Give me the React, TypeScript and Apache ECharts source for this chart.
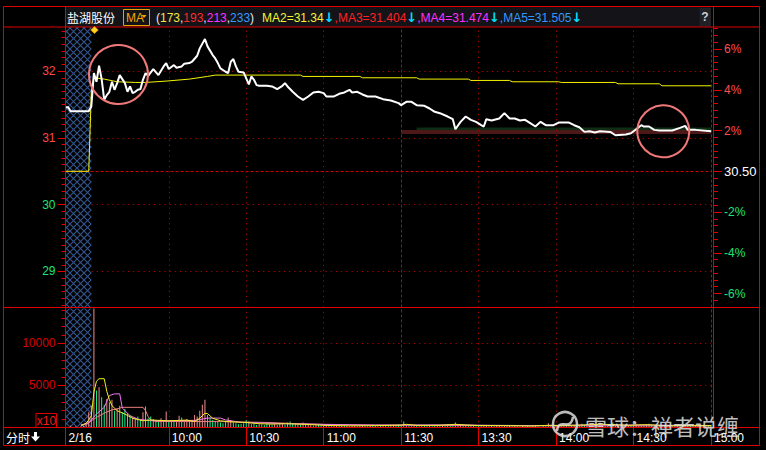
import React, { useEffect, useRef } from 'react';
import * as echarts from 'echarts';

// ---------- data ----------
const PRE_CLOSE = 30.5;
const PRICE_MIN = 28.461;
const PRICE_MAX = 32.66;
const VOL_MAX = 14150;
const MINUTE_MAX = 250; // 0 = 09:15 auction start, 10 = 09:30, 130 = 11:30/13:00, 250 = 15:00

const timeTickValues = [0, 40, 70, 100, 130, 160, 190, 220, 250];
const timeTickLabels = ['2/16', '10:00', '10:30', '11:00', '11:30', '13:30', '14:00', '14:30', '15:00'];
const gridTimes = [40, 70, 100, 130, 160, 190, 220, 250];
const sessionBreaks = [130, 250];
const priceTicks = [29, 30, 31, 32];
const pctTicks = [-6, -4, -2, 0, 2, 4, 6];
const volumeTicks = [5000, 10000];
const auctionRange = [0, 10];
const lowBand = [130, 250, 31.058, 31.118];
const highBand = [136, 250, 31.118, 31.156];

const priceLine = [
  [0, 31.46], [1, 31.46], [2, 31.40], [9, 31.40], [10, 31.47], [11, 31.97], [12, 31.84], [13, 32.08],
  [14, 31.88], [15, 31.57], [16, 31.64], [17, 31.69], [18, 31.84], [19, 31.72], [20, 31.82], [21, 31.94],
  [22, 31.88], [23, 31.82], [24, 31.69], [25, 31.77], [26, 31.67], [27, 31.69], [28, 31.72], [29, 31.73],
  [30, 31.87], [31, 31.97], [32, 31.93], [34, 32.03], [36, 31.94], [38, 32.07], [39, 32.12], [40, 32.03],
  [42, 32.09], [43, 32.05], [45, 32.07], [46, 32.11], [48, 32.12], [49, 32.14], [51, 32.23], [52, 32.34],
  [54, 32.48], [55, 32.37], [57, 32.24], [58, 32.19], [59, 32.12], [60, 32.04], [62, 31.99], [63, 31.97],
  [64, 32.14], [65, 32.18], [66, 32.07], [67, 31.99], [69, 31.98], [71, 31.80], [72, 31.92], [73, 31.87],
  [74, 31.79], [75, 31.78], [78, 31.78], [80, 31.77], [82, 31.73], [84, 31.78], [85, 31.82], [86, 31.77],
  [88, 31.69], [90, 31.62], [92, 31.57], [94, 31.62], [96, 31.68], [98, 31.69], [100, 31.67], [101, 31.62],
  [104, 31.62], [106, 31.66], [108, 31.68], [110, 31.72], [111, 31.68], [113, 31.69], [115, 31.65], [117, 31.62],
  [120, 31.62], [123, 31.58], [126, 31.56], [129, 31.52], [130, 31.49], [132, 31.54], [134, 31.54], [136, 31.49],
  [139, 31.48], [141, 31.44], [143, 31.39], [145, 31.37], [148, 31.32], [150, 31.28], [151, 31.13], [153, 31.24],
  [155, 31.32], [157, 31.27], [159, 31.24], [161, 31.19], [162, 31.17], [163, 31.28], [165, 31.26], [168, 31.29],
  [170, 31.37], [172, 31.29], [174, 31.29], [176, 31.26], [178, 31.27], [180, 31.22], [182, 31.17], [184, 31.24],
  [186, 31.19], [189, 31.19], [191, 31.23], [195, 31.23], [197, 31.19], [199, 31.16], [201, 31.09], [203, 31.10],
  [205, 31.08], [207, 31.10], [211, 31.09], [213, 31.04], [217, 31.05], [219, 31.07], [221, 31.13], [223, 31.19],
  [224, 31.17], [226, 31.17], [228, 31.12], [230, 31.11], [235, 31.11], [238, 31.15], [240, 31.18], [241, 31.12],
  [244, 31.12], [250, 31.10],
];

const avgLine = [
  [0, 30.50], [9, 30.50], [10, 31.69], [11, 31.90], [15, 31.88], [20, 31.84], [27, 31.83], [31, 31.83],
  [39, 31.85], [48, 31.88], [55, 31.92], [58, 31.94], [91, 31.94], [92, 31.92], [114, 31.92], [115, 31.90],
  [136, 31.90], [137, 31.88], [156, 31.88], [157, 31.86], [172, 31.86], [173, 31.84], [191, 31.84], [192, 31.83],
  [213, 31.83], [214, 31.81], [230, 31.81], [231, 31.78], [250, 31.78],
];

const volumes = [
  300, 0, 200, 0, 150, 0, 200, 250, 400, 1800,
  2600, 15500, 4400, 4800, 3600, 2700, 3400, 3000, 3300, 2000,
  2300, 2600, 1800, 2200, 1700, 1500, 1200, 1100, 1300, 900,
  1800, 2500, 1100, 1300, 1000, 800, 900, 1100, 700, 1900,
  800, 900, 700, 800, 1400, 1200, 900, 1000, 800, 900,
  1500, 1300, 2000, 2700, 3300, 1500, 1200, 900, 800, 700,
  600, 500, 700, 1200, 900, 600, 500, 400, 450, 500,
  900, 700, 400, 500, 300, 400, 350, 300, 500, 350,
  300, 400, 300, 450, 500, 350, 600, 700, 500, 400,
  350, 300, 600, 450, 400, 300, 250, 300, 350, 200,
  300, 250, 200, 150, 200, 250, 200, 300, 250, 200,
  150, 200, 250, 150, 200, 300, 200, 150, 200, 250,
  200, 150, 250, 200, 300, 250, 200, 300, 250, 350,
  300, 700, 250, 200, 150, 200, 250, 150, 200, 300,
  250, 200, 150, 200, 250, 300, 200, 250, 350, 300,
  400, 600, 350, 300, 250, 200, 250, 300, 200, 150,
  200, 250, 300, 200, 150, 200, 150, 250, 200, 150,
  300, 250, 200, 150, 200, 150, 100, 200, 150, 200,
  150, 200, 250, 150, 100, 200, 150, 500, 200, 150,
  300, 250, 200, 150, 200, 150, 250, 200, 350, 300,
  450, 300, 250, 200, 150, 300, 400, 600, 250, 200,
  300, 250, 600, 300, 200, 150, 200, 250, 300, 200,
  350, 400, 300, 250, 200, 350, 450, 300, 250, 200,
  200, 150, 200, 250, 200, 150, 300, 250, 200, 150,
  300, 250, 200, 150, 200, 250, 200, 150, 200, 250,
  300,
];

const volumeDir =
  'rgrgrgrrrr' + 'rrgrggrrrg' + 'rrggrgrrgg' + 'rrggrggrgr' + 'grgrrgrrrr' +
  'rrrrrggggg' + 'gggrrggggg' + 'grgggrgggr' + 'grrrrggggg' + 'rgrrrrgrgg' +
  'grgrrrgrgr' + 'grrgrrgrrg' + 'grgrggrggg' + 'ggrgrrgrgg' + 'ggggrgrgrg' +
  'ggrrgrgrgg' + 'ggrrgrgrrg' + 'rgrgrggrgg' + 'grrgrggrrg' + 'rgrgrggrgg' +
  'ggrgrggrgr' + 'gggrrgrrrg' + 'rrrggrgggr' + 'grgrrgrrgg' + 'rgggrrgrgg' + 'g';

const volMA5 = [
  [6, 250], [8, 500], [9, 900], [10, 1400], [11, 4200], [12, 5500], [13, 5800], [15, 5800], [16, 4300],
  [17, 3300], [18, 2600], [20, 2000], [23, 1600], [26, 1100], [30, 800], [33, 900], [36, 850], [40, 800],
  [44, 850], [47, 880], [50, 720], [52, 1100], [54, 1700], [55, 1650], [57, 1100], [60, 800], [63, 700],
  [66, 650], [70, 600], [75, 450], [80, 400], [85, 450], [90, 400], [95, 350], [100, 250], [110, 200],
  [120, 220], [130, 280], [132, 380], [136, 250], [145, 260], [151, 380], [155, 300], [160, 230], [170, 220],
  [180, 180], [188, 260], [192, 220], [200, 300], [207, 380], [212, 350], [218, 260], [222, 320], [226, 330],
  [232, 220], [240, 220], [250, 220],
];
const volMA10 = [
  [6, 250], [9, 600], [10, 900], [12, 1600], [15, 2400], [17, 3800], [19, 4000], [21, 4000], [22, 2300],
  [25, 1400], [28, 1000], [33, 800], [39, 800], [50, 850], [53, 1000], [55, 1120], [60, 1120], [62, 900],
  [68, 600], [78, 520], [85, 450], [95, 400], [105, 320], [120, 280], [135, 300], [150, 320], [165, 260],
  [180, 230], [200, 280], [215, 300], [230, 280], [250, 240],
];
const volMA20 = [
  [6, 250], [9, 500], [10, 800], [12, 1200], [15, 1700], [18, 2100], [20, 2200], [22, 2400], [30, 2400],
  [31, 2000], [32, 1300], [33, 900], [35, 720], [60, 700], [78, 600], [90, 450], [100, 380], [120, 300],
  [140, 250], [170, 220], [200, 200], [250, 180],
];

// ---------- styling ----------
const RED = '#e00000';
const FONT = '"Liberation Sans", Arial, sans-serif';
const CJK = '"Noto Sans CJK SC", sans-serif';

const pctOf = (p: number) => (p / PRE_CLOSE - 1) * 100;

const hatchSvg =
  '<svg xmlns="http://www.w3.org/2000/svg" width="7" height="7">' +
  '<rect width="7" height="7" fill="#000"/>' +
  '<path d="M0 0L7 7M7 0L0 7" stroke="#34558f" stroke-width="1.1"/></svg>';
const hatchFill: any = {
  image: 'data:image/svg+xml;charset=utf-8,' + encodeURIComponent(hatchSvg),
  repeat: 'repeat',
  imageWidth: 7,
  imageHeight: 7,
};

function buildOption() {
  const minorPriceTicks: number[] = [];
  for (let k = Math.ceil(PRICE_MIN * 10); k <= Math.floor(PRICE_MAX * 10); k++) minorPriceTicks.push(k / 10);
  const pMin = pctOf(PRICE_MIN);
  const pMax = pctOf(PRICE_MAX);
  const minorPctTicks: number[] = [];
  for (let k = Math.ceil(pMin * 3); k <= Math.floor(pMax * 3); k++) minorPctTicks.push(k / 3);
  const minorVolTicks: number[] = [];
  for (let v = 1000; v < VOL_MAX; v += 1000) minorVolTicks.push(v);

  const dotStyle = { color: '#b00000', type: [1.2, 4], width: 1 };
  const dashStyle = { color: '#c80000', type: [3, 2], width: 1 };
  const verticals = gridTimes.map((t) => ({
    xAxis: t,
    lineStyle: sessionBreaks.includes(t) ? dashStyle : dotStyle,
  }));
  const markLineBase = {
    silent: true,
    symbol: ['none', 'none'],
    z: 1,
    label: { show: false },
    emphasis: { disabled: true },
    animation: false,
  };

  const line = (data: any, color: string, width: number, xi: number, yi: number, z: number) => ({
    type: 'line',
    xAxisIndex: xi,
    yAxisIndex: yi,
    data,
    symbol: 'none',
    showSymbol: false,
    silent: true,
    z,
    lineStyle: { color, width },
    emphasis: { disabled: true },
  });

  const g = (o: any) => o;
  const hline = (y: number, x1: number, x2: number) =>
    g({ type: 'line', shape: { x1, y1: y, x2, y2: y }, style: { stroke: RED, lineWidth: 1 }, z: 60, silent: true });
  const vline = (x: number, y1: number, y2: number) =>
    g({ type: 'line', shape: { x1: x, y1, x2: x, y2 }, style: { stroke: RED, lineWidth: 1 }, z: 60, silent: true });

  return {
    animation: false,
    backgroundColor: '#000000',
    textStyle: { fontFamily: FONT },
    grid: [
      { left: 65.5, right: 55, top: 27, height: 280.5, containLabel: false },
      { left: 65.5, right: 55, top: 308.5, height: 119, containLabel: false },
    ],
    xAxis: [
      { type: 'value', gridIndex: 0, min: 0, max: MINUTE_MAX, show: false },
      {
        type: 'value', gridIndex: 1, min: 0, max: MINUTE_MAX, position: 'bottom',
        axisLine: { show: false },
        axisTick: { show: true, customValues: timeTickValues, length: 18, lineStyle: { color: RED, width: 1 } },
        axisLabel: {
          show: true, customValues: timeTickValues,
          formatter: (v: number) => timeTickLabels[timeTickValues.indexOf(v)] ?? '',
          color: '#ffffff', fontSize: 12, fontFamily: FONT, align: 'left', margin: 4, padding: [0, 0, 0, 3],
          showMinLabel: true, showMaxLabel: true, hideOverlap: false,
        },
        splitLine: { show: false },
      },
    ],
    yAxis: [
      {
        type: 'value', gridIndex: 0, min: PRICE_MIN, max: PRICE_MAX, position: 'left',
        axisLine: { show: true, lineStyle: { color: RED } },
        axisTick: { show: true, customValues: priceTicks, length: 8, lineStyle: { color: RED } },
        axisLabel: {
          customValues: priceTicks, margin: 10, fontSize: 12, fontFamily: FONT,
          formatter: (v: number) => (v > PRE_CLOSE ? `{up|${v}}` : `{dn|${v}}`),
          rich: { up: { color: '#ff4848', fontSize: 12 }, dn: { color: '#1ee27a', fontSize: 12 } },
        },
        splitLine: { show: true, lineStyle: dotStyle },
      },
      {
        type: 'value', gridIndex: 0, min: PRICE_MIN, max: PRICE_MAX, position: 'left',
        axisLine: { show: false },
        axisTick: { show: true, customValues: minorPriceTicks, length: 4, lineStyle: { color: RED } },
        axisLabel: { show: false }, splitLine: { show: false },
      },
      {
        type: 'value', gridIndex: 0, min: pMin, max: pMax, position: 'right', offset: 2,
        axisLine: { show: true, lineStyle: { color: RED } },
        axisTick: { show: true, customValues: pctTicks, length: 9, lineStyle: { color: RED } },
        axisLabel: {
          customValues: pctTicks, margin: 11, fontSize: 12, fontFamily: FONT,
          formatter: (v: number) => (v === 0 ? '{w|30.50}' : v > 0 ? `{up|${v}%}` : `{dn|${v}%}`),
          rich: {
            up: { color: '#ff4c4c', fontSize: 12 },
            dn: { color: '#1ee27a', fontSize: 12 },
            w: { color: '#ffffff', fontSize: 13 },
          },
        },
        splitLine: { show: false },
      },
      {
        type: 'value', gridIndex: 0, min: pMin, max: pMax, position: 'right', offset: 2,
        axisLine: { show: false },
        axisTick: { show: true, customValues: minorPctTicks, length: 5, lineStyle: { color: RED } },
        axisLabel: { show: false }, splitLine: { show: false },
      },
      {
        type: 'value', gridIndex: 1, min: 0, max: VOL_MAX, position: 'left',
        axisLine: { show: true, lineStyle: { color: RED } },
        axisTick: { show: true, customValues: volumeTicks, length: 8, lineStyle: { color: RED } },
        axisLabel: {
          customValues: volumeTicks, margin: 10, color: '#d80000', fontSize: 12, fontFamily: FONT,
          formatter: (v: number) => String(Math.round(v)),
        },
        splitLine: { show: true, lineStyle: dotStyle },
      },
      {
        type: 'value', gridIndex: 1, min: 0, max: VOL_MAX, position: 'left',
        axisLine: { show: false },
        axisTick: { show: true, customValues: minorVolTicks, length: 4, lineStyle: { color: RED } },
        axisLabel: { show: false }, splitLine: { show: false },
      },
      {
        type: 'value', gridIndex: 1, min: 0, max: VOL_MAX, position: 'right', offset: 2,
        axisLine: { show: true, lineStyle: { color: RED } },
        axisTick: { show: false }, axisLabel: { show: false }, splitLine: { show: false },
      },
    ],
    series: [
      {
        ...line(priceLine, '#ffffff', 2, 0, 0, 5),
        markLine: {
          ...markLineBase,
          data: [...verticals, { yAxis: PRE_CLOSE, lineStyle: { color: '#d00000', type: [3, 2], width: 1 } }],
        },
        markArea: {
          silent: true,
          emphasis: { disabled: true },
          data: [
            [{ xAxis: auctionRange[0], itemStyle: { color: hatchFill } }, { xAxis: auctionRange[1] }],
            [{ xAxis: lowBand[0], yAxis: lowBand[2], itemStyle: { color: '#4c1818' } }, { xAxis: lowBand[1], yAxis: lowBand[3] }],
            [{ xAxis: highBand[0], yAxis: highBand[2], itemStyle: { color: '#0d2e15' } }, { xAxis: highBand[1], yAxis: highBand[3] }],
          ],
        },
      },
      line(avgLine, '#f4f400', 1, 0, 0, 4),
      {
        type: 'bar',
        xAxisIndex: 1,
        yAxisIndex: 4,
        barWidth: 1,
        silent: true,
        z: 3,
        clip: true,
        emphasis: { disabled: true },
        data: volumes.map((v, i) => ({
          value: [i, v],
          itemStyle: { color: volumeDir[i] === 'r' ? '#f08c8c' : '#16f08a' },
        })),
        markLine: { ...markLineBase, data: verticals },
        markArea: {
          silent: true,
          emphasis: { disabled: true },
          data: [[{ xAxis: auctionRange[0], itemStyle: { color: hatchFill } }, { xAxis: auctionRange[1] }]],
        },
      },
      line(volMA20, '#f08080', 1, 1, 4, 4),
      line(volMA10, '#f078f0', 1, 1, 4, 4),
      line(volMA5, '#f0f020', 1, 1, 4, 4),
    ],
    graphic: {
      elements: [
        // title bar
        g({ type: 'rect', shape: { x: 66, y: 7, width: 645, height: 20 }, style: { fill: '#131318' }, z: 50, silent: true }),
        g({ type: 'rect', shape: { x: 699.5, y: 8, width: 11.5, height: 18 }, style: { fill: '#202027' }, z: 51, silent: true }),
        g({ type: 'text', x: 705, y: 17, style: { text: '?', fill: '#cfcfcf', font: `bold 12px ${FONT}`, align: 'center', verticalAlign: 'middle' }, z: 52, silent: true }),
        g({ type: 'text', x: 67, y: 17.5, style: { text: '盐湖股份', fill: '#ffffff', font: `12px ${CJK}`, verticalAlign: 'middle' }, z: 52, silent: true }),
        g({ type: 'rect', shape: { x: 123.5, y: 9.5, width: 26, height: 16 }, style: { fill: 'none', stroke: '#e6a000', lineWidth: 1 }, z: 52, silent: true }),
        g({ type: 'text', x: 126, y: 17.5, style: { text: 'MA', fill: '#f5a800', font: `12px ${FONT}`, verticalAlign: 'middle' }, z: 52, silent: true }),
        g({ type: 'polygon', shape: { points: [[141.5, 15], [146.5, 15], [144, 18]] }, style: { fill: '#f5a800' }, z: 52, silent: true }),
        g({
          type: 'text', x: 156, y: 17.5, z: 52, silent: true,
          style: {
            text: '{w|(}{y|173}{w|,}{r|193}{w|,}{m|213}{w|,}{b|233}{w|)}',
            font: `12px ${FONT}`, verticalAlign: 'middle',
            rich: {
              w: { fill: '#e8e8e8', font: `12px ${FONT}` },
              y: { fill: '#f2e640', font: `12px ${FONT}` },
              r: { fill: '#ff2a2a', font: `12px ${FONT}` },
              m: { fill: '#ff30ff', font: `12px ${FONT}` },
              b: { fill: '#3399ff', font: `12px ${FONT}` },
            },
          },
        }),
        g({
          type: 'text', x: 262, y: 17.5, z: 52, silent: true,
          style: {
            text: '{y|MA2=31.34}{c|↓}{r|,MA3=31.404}{c|↓}{m|,MA4=31.474}{c|↓}{b|,MA5=31.505}{c|↓}',
            font: `12px ${FONT}`, verticalAlign: 'middle',
            rich: {
              y: { fill: '#f4f430', font: `12px ${FONT}` },
              r: { fill: '#ff2222', font: `12px ${FONT}` },
              m: { fill: '#ff30ff', font: `12px ${FONT}` },
              b: { fill: '#3399ff', font: `12px ${FONT}` },
              c: { fill: '#00e0ff', font: `bold 13px "DejaVu Sans", sans-serif` },
            },
          },
        }),
        // frame
        g({ type: 'rect', shape: { x: 3.5, y: 6.5, width: 756, height: 439 }, style: { fill: 'none', stroke: RED, lineWidth: 1 }, z: 60, silent: true }),
        hline(27, 3.5, 759.5),
        hline(307.5, 3.5, 759.5),
        hline(427.5, 3.5, 759.5),
        vline(65.5, 6.5, 445.5),
        vline(713.5, 6.5, 427.5),
        // x10 box
        g({ type: 'rect', shape: { x: 36, y: 413.5, width: 20.5, height: 14 }, style: { fill: 'none', stroke: RED, lineWidth: 1 }, z: 60, silent: true }),
        g({ type: 'text', x: 46.5, y: 420.5, style: { text: 'x10', fill: '#ee1c1c', font: `12px ${FONT}`, align: 'center', verticalAlign: 'middle' }, z: 61, silent: true }),
        // bottom-left
        g({ type: 'text', x: 6, y: 437.5, style: { text: '分时', fill: '#ffffff', font: `12px ${CJK}`, verticalAlign: 'middle' }, z: 61, silent: true }),
        g({ type: 'polygon', shape: { points: [[34, 432], [37, 432], [37, 436.5], [40, 436.5], [35.5, 441.5], [31, 436.5], [34, 436.5]] }, style: { fill: '#ffffff' }, z: 61, silent: true }),
        // annotations
        g({ type: 'polygon', shape: { points: [[94.5, 26.5], [98.3, 30], [94.5, 33.5], [90.7, 30]] }, style: { fill: '#ffd21f', stroke: '#ff9a00', lineWidth: 0.6 }, z: 70, silent: true }),
        g({ type: 'circle', shape: { cx: 118.5, cy: 74.5, r: 29.5 }, style: { fill: 'none', stroke: '#f07878', lineWidth: 2 }, z: 70, silent: true }),
        g({ type: 'circle', shape: { cx: 663.3, cy: 131.3, r: 26 }, style: { fill: 'none', stroke: '#f07878', lineWidth: 2 }, z: 70, silent: true }),
        // watermark (overlaps the time labels, as in the reference)
        g({ type: 'circle', shape: { cx: 565, cy: 424, r: 12 }, style: { fill: 'none', stroke: 'rgba(220,220,220,0.85)', lineWidth: 2.5 }, z: 80, silent: true }),
        g({ type: 'bezierCurve', shape: { x1: 557, y1: 431, cpx1: 559, cpy1: 416, cpx2: 570, cpy2: 433, x2: 573, y2: 417 }, style: { fill: 'none', stroke: 'rgba(220,220,220,0.85)', lineWidth: 2.5 }, z: 80, silent: true }),
        g({ type: 'text', x: 585, y: 425, style: { text: '雪球：禅者说缠', fill: 'rgba(225,225,225,0.85)', font: `22px ${CJK}`, verticalAlign: 'middle' }, z: 80, silent: true }),
      ],
    },
  };
}

export default function App() {
  const ref = useRef<HTMLDivElement>(null);
  useEffect(() => {
    document.body.style.margin = '0';
    document.body.style.background = '#000';
    if (!ref.current) return;
    const chart = echarts.init(ref.current, undefined, { renderer: 'svg' });
    chart.setOption(buildOption() as any);
    return () => chart.dispose();
  }, []);
  return (
    <div
      ref={ref}
      style={{ position: 'fixed', left: 0, top: 0, width: 766, height: 450, background: '#000' }}
    />
  );
}
